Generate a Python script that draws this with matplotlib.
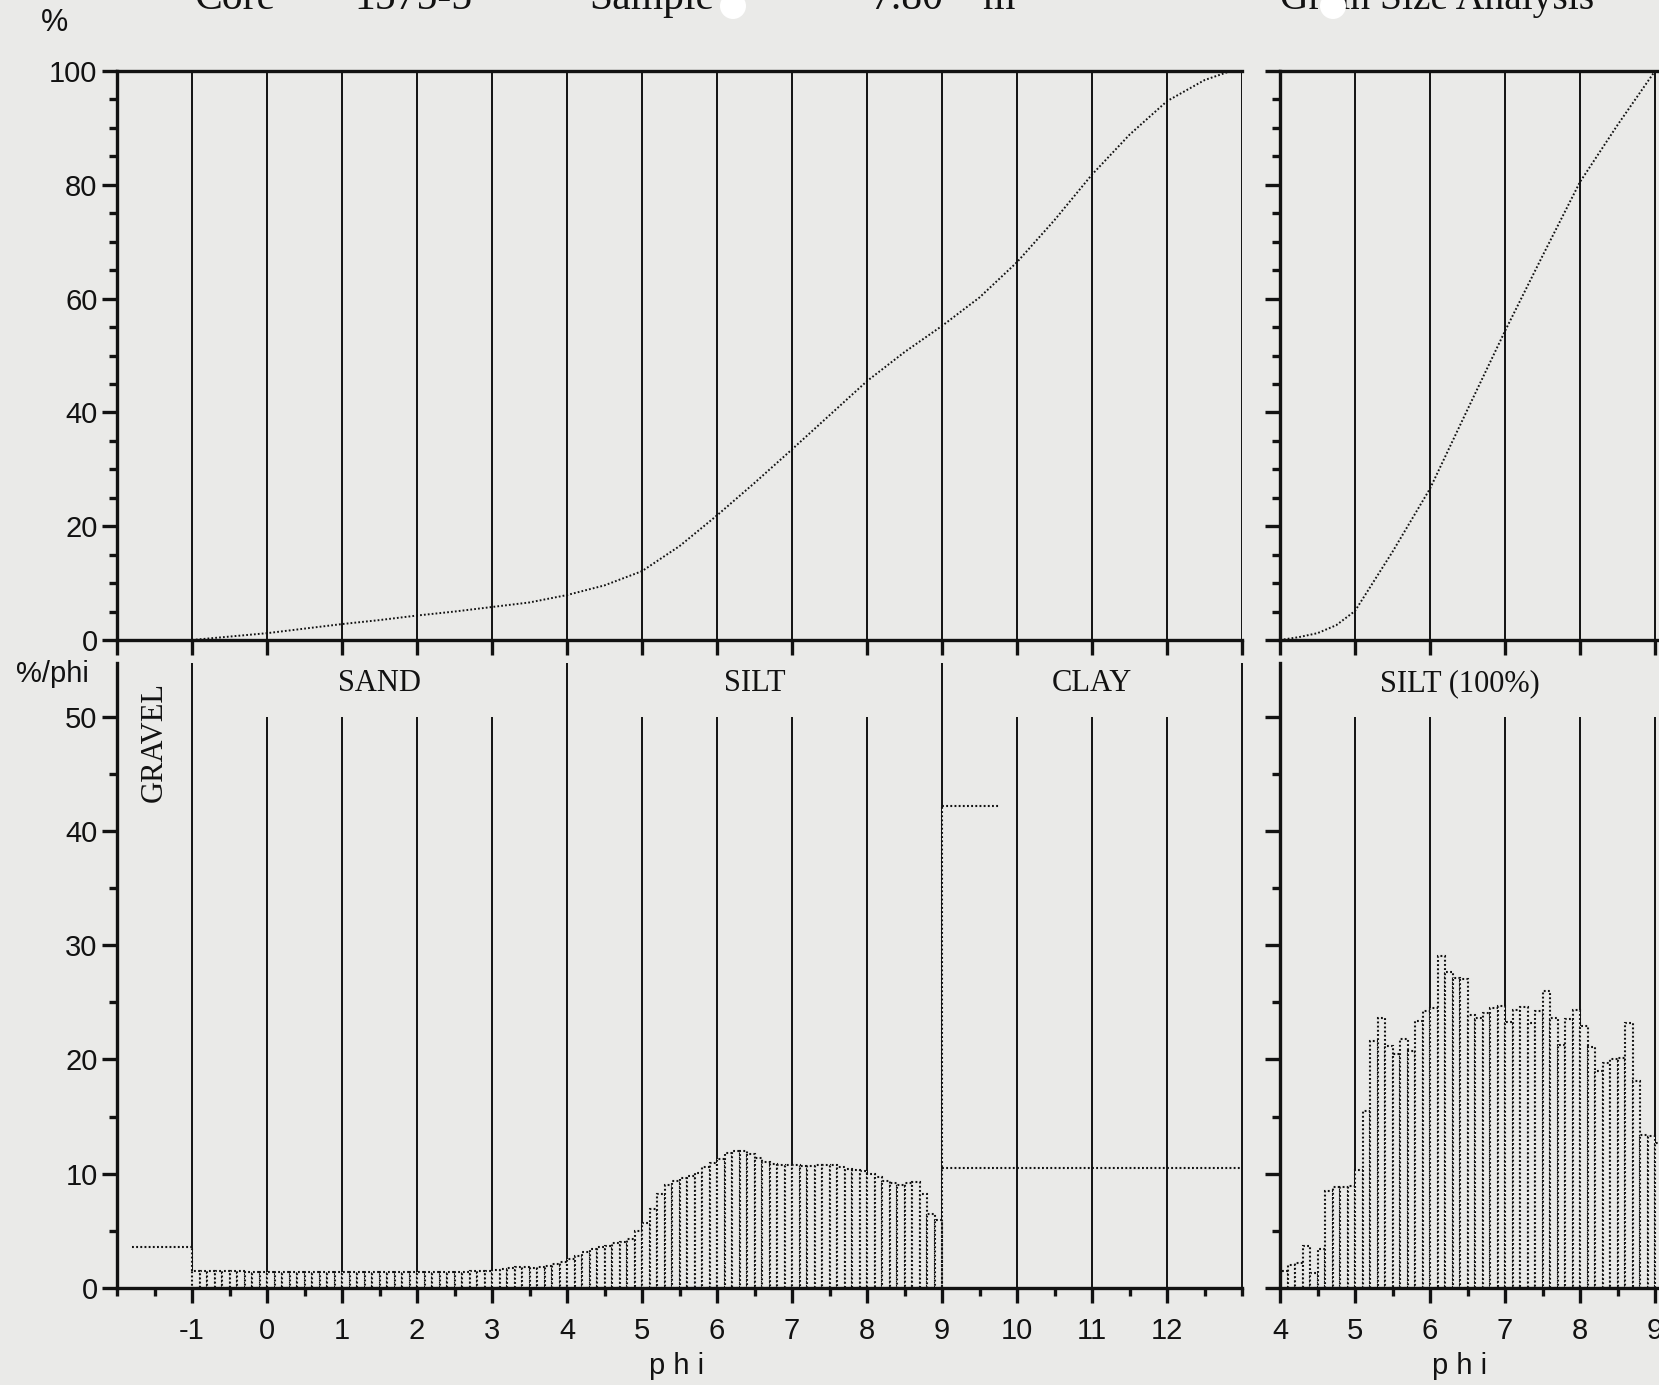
import numpy as np
import matplotlib
matplotlib.use("Agg")
import matplotlib.pyplot as plt
from matplotlib.ticker import FixedLocator, FixedFormatter, NullFormatter
from matplotlib.patches import Rectangle, Ellipse

# ---------------- data ----------------
# cumulative curve (whole sample)
cum_phi = [-1.0, -0.5, 0.0, 0.5, 1.0, 1.5, 2.0, 2.5, 3.0, 3.5, 4.0, 4.5, 5.0, 5.5,
           6.0, 6.5, 7.0, 7.5, 8.0, 8.5, 9.0, 9.5, 10.0, 10.5, 11.0, 11.5, 12.0,
           12.5, 12.85, 13.0]
cum_pct = [0.0, 0.6, 1.2, 2.0, 2.8, 3.5, 4.3, 5.0, 5.8, 6.6, 7.9, 9.6, 12.1, 16.5,
           21.9, 27.6, 33.5, 39.5, 45.5, 50.6, 55.2, 60.2, 66.4, 73.8, 81.8, 88.8,
           94.7, 98.4, 100.0, 100.0]

# cumulative curve (silt fraction only)
silt_cum_phi = [4.0, 4.25, 4.5, 4.75, 5.0, 5.5, 6.0, 6.5, 7.0, 7.5, 8.0, 8.5, 9.0]
silt_cum_pct = [0.0, 0.5, 1.2, 2.6, 5.1, 15.5, 26.6, 40.5, 54.3, 67.5, 80.5, 90.5, 100.0]

# frequency histogram (%/phi), 0.1 phi bins starting at -1.0
hist_start = -1.0
bin_width = 0.1
hist_vals = [
    1.50, 1.50, 1.50, 1.48, 1.46, 1.45, 1.45, 1.44, 1.42, 1.40,   # -1.0 .. -0.1
    1.40, 1.40, 1.40, 1.40, 1.40, 1.40, 1.40, 1.40, 1.40, 1.40,   #  0.0 .. 0.9
    1.40, 1.40, 1.40, 1.40, 1.40, 1.40, 1.40, 1.40, 1.40, 1.40,   #  1.0 .. 1.9
    1.40, 1.40, 1.40, 1.40, 1.40, 1.40, 1.42, 1.45, 1.48, 1.52,   #  2.0 .. 2.9
    1.60, 1.70, 1.75, 1.80, 1.80, 1.75, 1.85, 1.95, 2.10, 2.30,   #  3.0 .. 3.9
    2.55, 2.80, 3.15, 3.40, 3.55, 3.70, 3.90, 4.00, 4.30, 4.95,   #  4.0 .. 4.9
    5.70, 6.90, 8.20, 9.00, 9.40, 9.60, 9.80, 10.10, 10.55, 10.90,  # 5.0 .. 5.9
    11.30, 11.85, 12.00, 11.95, 11.70, 11.40, 11.00, 10.85, 10.80, 10.80,  # 6.0 .. 6.9
    10.75, 10.70, 10.70, 10.80, 10.80, 10.80, 10.60, 10.45, 10.30, 10.20,  # 7.0 .. 7.9
    10.00, 9.70, 9.40, 9.15, 9.05, 9.15, 9.30, 8.20, 6.50, 5.95,   #  8.0 .. 8.9
]

# silt-only histogram (%/phi), 0.1 phi bins starting at 4.0
silt_start = 4.0
silt_vals = [
    1.45, 2.05, 2.20, 3.70, 1.35, 3.40, 8.50, 8.80, 8.80, 8.90,
    10.35, 15.45, 21.60, 23.60, 21.20, 20.50, 21.80, 20.75, 23.40, 24.20,
    24.50, 29.10, 27.70, 27.10, 27.00, 23.90, 23.60, 24.05, 24.50, 24.70,
    23.30, 24.30, 24.60, 23.20, 24.20, 26.00, 23.60, 21.30, 23.50, 24.30,
    22.90, 21.10, 18.95, 19.70, 20.00, 20.10, 23.20, 18.10, 13.40, 13.30,
    12.70,
]

gravel_range = (-1.8, -1.0)
gravel_val = 3.6
clay_range = (9.0, 13.0)
clay_val = 10.5
clay_total = 42.2
clay_total_end = 9.77

class_labels = ["GRAVEL", "SAND", "SILT", "CLAY"]
class_pos = [-1.5, 1.5, 6.5, 11.0]
class_bounds = [-1, 4, 9, 13]

x_tick_labels = ["-1", "0", "1", "2", "3", "4", "5", "6", "7", "8", "9", "10", "11", "12"]
silt_tick_labels = ["4", "5", "6", "7", "8", "9"]

# ---------------- style ----------------
BG = "#eaeae8"
INK = "#121212"
W, H = 1659, 1385
SPINE_LW = 2.4
GRID_LW = 1.4
DOT = (0, (0.9, 1.1))
BAR_LW = 1.5
SANS = ["Liberation Sans", "DejaVu Sans"]
SERIF = ["Liberation Serif", "DejaVu Serif"]
plt.rcParams["font.family"] = SANS

fig = plt.figure(figsize=(W / 100, H / 100), dpi=100, facecolor=BG)


def px_axes(x0, y_top, x1, y_bot):
    return fig.add_axes([x0 / W, 1 - y_bot / H, (x1 - x0) / W, (y_bot - y_top) / H])


ax_tl = px_axes(117, 71, 1242, 640)
ax_bl = px_axes(117, 663, 1242, 1288)
ax_tr = px_axes(1280, 71, 1730, 640)
ax_br = px_axes(1280, 663, 1730, 1288)


def base_style(ax, top_spine):
    ax.set_facecolor("none")
    for s in ["left", "bottom"]:
        ax.spines[s].set_linewidth(SPINE_LW)
        ax.spines[s].set_color(INK)
    ax.spines["right"].set_visible(False)
    if top_spine:
        ax.spines["top"].set_linewidth(SPINE_LW)
        ax.spines["top"].set_color(INK)
    else:
        ax.spines["top"].set_visible(False)
    ax.tick_params(which="major", direction="out", length=11, width=SPINE_LW,
                   color=INK, labelsize=21, labelcolor=INK)
    ax.tick_params(which="minor", direction="out", length=5.5, width=SPINE_LW, color=INK)
    ax.tick_params(axis="y", pad=3)
    ax.tick_params(axis="x", pad=10)


# ---- top-left: cumulative ----
ax = ax_tl
ax.set_xlim(-2, 13)
ax.set_ylim(0, 100)
base_style(ax, True)
ax.vlines(range(-1, 14), 0, 100, color=INK, lw=GRID_LW, zorder=1)
ax.plot(cum_phi, cum_pct, color=INK, lw=1.4, ls=DOT, zorder=3, clip_on=False)
ax.xaxis.set_major_locator(FixedLocator(range(-2, 14)))
ax.xaxis.set_major_formatter(NullFormatter())
ax.yaxis.set_major_locator(FixedLocator(range(0, 101, 20)))
ax.yaxis.set_minor_locator(FixedLocator(range(0, 101, 5)))

# ---- top-right: silt cumulative ----
ax = ax_tr
ax.set_xlim(4, 10)
ax.set_ylim(0, 100)
base_style(ax, True)
ax.vlines(range(5, 10), 0, 100, color=INK, lw=GRID_LW, zorder=1)
ax.plot(silt_cum_phi, silt_cum_pct, color=INK, lw=1.4, ls=DOT, zorder=3, clip_on=False)
ax.xaxis.set_major_locator(FixedLocator(range(4, 11)))
ax.xaxis.set_major_formatter(NullFormatter())
ax.yaxis.set_major_locator(FixedLocator(range(0, 101, 20)))
ax.yaxis.set_minor_locator(FixedLocator(range(0, 101, 5)))
ax.yaxis.set_major_formatter(NullFormatter())

# ---- bottom-left: histogram ----
ax = ax_bl
ytop = 54.7
ax.set_xlim(-2, 13)
ax.set_ylim(0, ytop)
base_style(ax, False)
for p in range(0, 13):
    if p in class_bounds:
        continue
    ax.vlines(p, 0, 50, color=INK, lw=GRID_LW, zorder=1)
ax.vlines(class_bounds, 0, ytop, color=INK, lw=GRID_LW, zorder=1, clip_on=False)

edges = np.round(hist_start + bin_width * np.arange(len(hist_vals)), 3)
ax.bar(edges, hist_vals, width=bin_width, align="edge", facecolor=BG,
       edgecolor=INK, linewidth=BAR_LW, linestyle=DOT, zorder=2)
# gravel
ax.add_patch(Rectangle((gravel_range[0], 0), gravel_range[1] - gravel_range[0], gravel_val,
                       facecolor=BG, edgecolor="none", zorder=1.5))
ax.hlines(gravel_val, *gravel_range, color=INK, lw=BAR_LW, ls=DOT, zorder=3)
ax.vlines(gravel_range[1], hist_vals[0], gravel_val, color=INK, lw=BAR_LW, ls=DOT, zorder=3)
# clay
ax.add_patch(Rectangle((clay_range[0], 0), clay_total_end - clay_range[0], clay_total,
                       facecolor=BG, edgecolor="none", zorder=1.5))
ax.hlines(clay_total, clay_range[0], clay_total_end, color=INK, lw=BAR_LW, ls=DOT, zorder=3)
ax.vlines(clay_range[0], 0, clay_total, color=INK, lw=BAR_LW, ls=DOT, zorder=3)
ax.hlines(clay_val, *clay_range, color=INK, lw=BAR_LW, ls=DOT, zorder=3)

ax.xaxis.set_major_locator(FixedLocator(range(-1, 13)))
ax.xaxis.set_major_formatter(FixedFormatter(x_tick_labels))
ax.xaxis.set_minor_locator(FixedLocator([-2, 13] + [p + 0.5 for p in range(-2, 13)]))
ax.tick_params(axis="x", which="minor", length=5.5)
ax.yaxis.set_major_locator(FixedLocator(range(0, 51, 10)))
ax.yaxis.set_minor_locator(FixedLocator(range(0, 51, 5)))

for lab, pos in zip(class_labels, class_pos):
    if lab == "GRAVEL":
        ax.text(pos, 47.8, lab, rotation=90, ha="center", va="center",
                family=SERIF, fontsize=22, color=INK)
    else:
        ax.text(pos, 52.9, lab, ha="center", va="center", family=SERIF,
                fontsize=22, color=INK)

# ---- bottom-right: silt histogram ----
ax = ax_br
ax.set_xlim(4, 10)
ax.set_ylim(0, ytop)
base_style(ax, False)
ax.vlines(range(5, 10), 0, 50, color=INK, lw=GRID_LW, zorder=1)
ax.vlines(4, 0, ytop, color=INK, lw=GRID_LW, zorder=1)
sedges = np.round(silt_start + bin_width * np.arange(len(silt_vals)), 3)
ax.bar(sedges, silt_vals, width=bin_width, align="edge", facecolor=BG,
       edgecolor=INK, linewidth=BAR_LW, linestyle=DOT, zorder=2)
ax.xaxis.set_major_locator(FixedLocator(range(4, 10)))
ax.xaxis.set_major_formatter(FixedFormatter(silt_tick_labels))
ax.xaxis.set_minor_locator(FixedLocator([p + 0.5 for p in range(4, 10)]))
ax.yaxis.set_major_locator(FixedLocator(range(0, 51, 10)))
ax.yaxis.set_minor_locator(FixedLocator(range(0, 51, 5)))
ax.yaxis.set_major_formatter(NullFormatter())
ax.text(6.4, 52.9, "SILT (100%)", ha="center", va="center", family=SERIF,
        fontsize=22, color=INK)

# ---- figure texts ----
def ftext(x, y, s, **kw):
    fig.text(x / W, 1 - y / H, s, **kw)

ftext(55, 23, "%", ha="center", va="center", fontsize=22, color=INK)
ftext(52, 674, "%/phi", ha="center", va="center", fontsize=21, color=INK)
ftext(677, 1366, "p h i", ha="center", va="center", fontsize=21, color=INK)
ftext(1460, 1366, "p h i", ha="center", va="center", fontsize=21, color=INK)

title_words = ["Core", "1575-5", "Sample", "7.80", "m", "Grain Size Analysis"]
title_x = [194, 354, 589, 870, 982, 1280]
title_size = [30, 30, 30, 30, 30, 28.5]
for w_, x_, s_ in zip(title_words, title_x, title_size):
    ftext(x_, 9, w_, ha="left", va="baseline", family=SERIF, fontsize=s_, color=INK)

# scan redaction blobs
for cx in [733, 1333]:
    fig.patches.append(Ellipse((cx / W, 1 - 6 / H), 26 / W, 26 / H,
                               transform=fig.transFigure, facecolor="white",
                               edgecolor="none", zorder=5))

fig.savefig("out.png", dpi=100, facecolor=BG)
